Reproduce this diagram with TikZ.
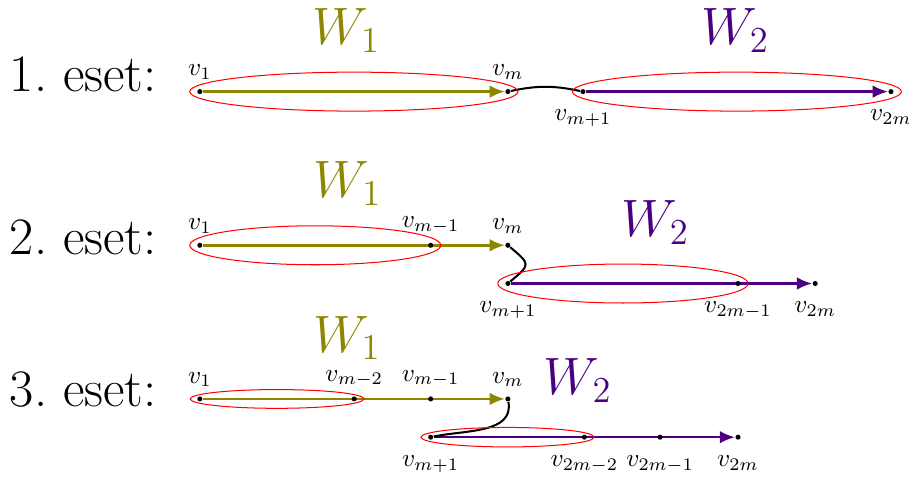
\documentclass[tikz,border=0pt]{standalone}
\usepackage{fontspec}
\newfontfamily\esetfont{lmroman17-regular}[Extension=.otf]
\usetikzlibrary{arrows.meta, calc, backgrounds}
\definecolor{wpurple}{RGB}{75,0,130}
\begin{document}
\begin{tikzpicture}[
    dot/.style={circle, fill=black, inner sep=0pt, minimum size=2pt},
    walkA/.style={-{Latex[length=6pt, width=5pt]}, line width=1pt, color=olive},
    walkB/.style={-{Latex[length=6pt, width=5pt]}, line width=1pt, color=wpurple},
    link/.style={thick, black},
    group/.style={red, line width=0.4pt},
    case/.style={font=\huge\esetfont, anchor=base west, inner sep=0pt},
    wname/.style={font=\huge, anchor=base, inner sep=0pt}
]
    \useasboundingbox (0,0) rectangle (12.6,6.61);

    % 1. eset
    \node[case] (c1) at (0.13,5.34) {1.\ eset:};
    \node[dot, label=above:$v_1$] (a1) at (2.77,5.34) {};
    \node[dot, label=above:$v_m$] (a2) at (7.04,5.34) {};
    \node[dot, label={[label distance=2.5pt]below:$v_{m+1}$}] (a3) at (8.08,5.34) {};
    \node[dot, label={[label distance=2.5pt]below:$v_{2m}$}] (a4) at (12.35,5.34) {};
    \node[wname, text=olive] (wa1) at (4.80,5.99) {$W_1$};
    \node[wname, text=wpurple] (wa2) at (10.19,5.99) {$W_2$};
    \begin{scope}[on background layer]
        \draw[walkA] (a1) -- (a2);
        \draw[walkB] (a3) -- (a4);
        \draw[link] (a2) to[bend left=12] (a3);
    \end{scope}
    \draw[group] ($(a1)!0.5!(a2)$) ellipse [x radius=2.275, y radius=0.27];
    \draw[group] ($(a3)!0.5!(a4)$) ellipse [x radius=2.28, y radius=0.27];

    % 2. eset
    \node[case] (c2) at (0.13,3.08) {2.\ eset:};
    \node[dot, label=above:$v_1$] (b1) at (2.77,3.21) {};
    \node[dot, label=above:$v_{m-1}$] (b2) at (5.97,3.21) {};
    \node[dot, label=above:$v_m$] (b3) at (7.04,3.21) {};
    \node[dot, label={[label distance=2.5pt]below:$v_{m+1}$}] (b4) at (7.04,2.68) {};
    \node[dot, label={[label distance=2.5pt]below:$v_{2m-1}$}] (b5) at (10.23,2.68) {};
    \node[dot, label={[label distance=2.5pt]below:$v_{2m}$}] (b6) at (11.30,2.68) {};
    \node[wname, text=olive] (wb1) at (4.82,3.87) {$W_1$};
    \node[wname, text=wpurple] (wb2) at (9.08,3.33) {$W_2$};
    \begin{scope}[on background layer]
        \draw[walkA] (b1) -- (b3);
        \draw[walkB] (b4) -- (b6);
        \draw[link] (b3) to[out=-40, in=40, looseness=2] (b4);
    \end{scope}
    \draw[group] ($(b1)!0.5!(b2)$) ellipse [x radius=1.74, y radius=0.27];
    \draw[group] ($(b4)!0.5!(b5)$) ellipse [x radius=1.735, y radius=0.27];

    % 3. eset
    \node[case] (c3) at (0.13,0.97) {3.\ eset:};
    \node[dot, label=above:$v_1$] (d1) at (2.77,1.08) {};
    \node[dot, label=above:$v_{m-2}$] (d2) at (4.91,1.08) {};
    \node[dot, label=above:$v_{m-1}$] (d3) at (5.97,1.08) {};
    \node[dot, label=above:$v_m$] (d4) at (7.04,1.08) {};
    \node[dot, label={[label distance=2.5pt]below:$v_{m+1}$}] (d5) at (5.97,0.55) {};
    \node[dot, label={[label distance=2.5pt]below:$v_{2m-2}$}] (d6) at (8.10,0.55) {};
    \node[dot, label={[label distance=2.5pt]below:$v_{2m-1}$}] (d7) at (9.15,0.55) {};
    \node[dot, label={[label distance=2.5pt]below:$v_{2m}$}] (d8) at (10.23,0.55) {};
    \node[wname, text=olive] (wd1) at (4.81,1.73) {$W_1$};
    \node[wname, text=wpurple] (wd2) at (8.01,1.14) {$W_2$};
    \begin{scope}[on background layer]
        \draw[walkA] (d1) -- (d4);
        \draw[walkB] (d5) -- (d8);
        \draw[link] (d4) to[out=-80, in=12] (d5);
    \end{scope}
    \draw[group] ($(d1)!0.5!(d2)$) ellipse [x radius=1.205, y radius=0.13];
    \draw[group] ($(d5)!0.5!(d6)$) ellipse [x radius=1.2, y radius=0.135];
\end{tikzpicture}
\end{document}
